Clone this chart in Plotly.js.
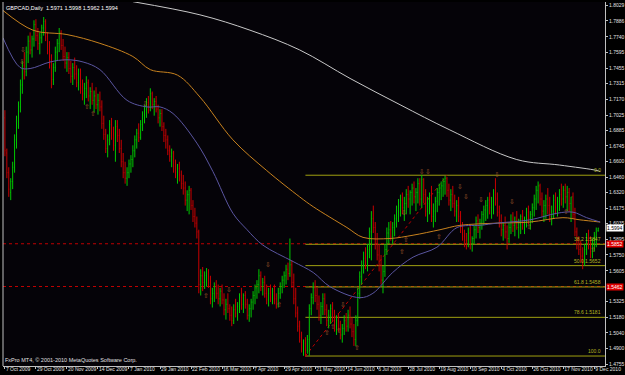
<!DOCTYPE html>
<html><head><meta charset="utf-8">
<script src="https://cdn.plot.ly/plotly-3.0.1.min.js"></script>
<style>html,body{margin:0;padding:0;background:#000;}#chart{width:625px;height:375px;}</style>
</head><body><div id="chart"></div>
<script>
const symbolName = "GBPCAD";
const periodName = "Daily";
const footerText = "FxPro MT4, © 2001-2010 MetaQuotes Software Corp.";

const tickDates = ["7 Oct 2009","29 Oct 2009","20 Nov 2009","14 Dec 2009","7 Jan 2010","29 Jan 2010","22 Feb 2010","16 Mar 2010","7 Apr 2010","29 Apr 2010","21 May 2010","14 Jun 2010","6 Jul 2010","28 Jul 2010","19 Aug 2010","10 Sep 2010","4 Oct 2010","26 Oct 2010","17 Nov 2010","9 Dec 2010"];
const tickDateIdx = [0,16,32,48,64,80,96,112,128,144,160,176,192,208,224,240,256,272,288,304];

const priceTicks = ["1.8029","1.7886","1.7740","1.7595","1.7455","1.7315","1.7170","1.7025","1.6885","1.6745","1.6600","1.6460","1.6320","1.6175","1.6035","1.5895","1.5750","1.5605","1.5325","1.5180","1.5040","1.4900","1.4755"];

const openP = [
1.700,1.668,1.650,1.632,1.642,1.655,1.680,1.698,1.710,1.730,
1.748,1.742,1.760,1.770,1.762,1.772,1.785,1.775,1.768,1.773,
1.782,1.788,1.774,1.762,1.750,1.735,1.746,1.760,1.768,1.778,
1.766,1.756,1.750,1.755,1.745,1.738,1.746,1.740,1.732,1.740,
1.728,1.722,1.727,1.732,1.720,1.724,1.716,1.720,1.712,1.716,
1.710,1.695,1.685,1.672,1.680,1.694,1.686,1.675,1.692,1.684,
1.672,1.660,1.650,1.645,1.650,1.658,1.662,1.670,1.680,1.686,
1.682,1.694,1.702,1.708,1.714,1.710,1.722,1.712,1.715,1.708,
1.700,1.704,1.692,1.684,1.680,1.670,1.665,1.668,1.656,1.650,
1.654,1.648,1.640,1.636,1.625,1.630,1.634,1.620,1.610,1.604,
1.596,1.548,1.556,1.550,1.556,1.558,1.550,1.535,1.540,1.546,
1.540,1.535,1.542,1.534,1.525,1.530,1.526,1.520,1.515,1.525,
1.522,1.528,1.536,1.530,1.538,1.530,1.520,1.526,1.532,1.538,
1.545,1.548,1.556,1.546,1.550,1.540,1.534,1.540,1.536,1.542,
1.535,1.530,1.540,1.546,1.552,1.556,1.562,1.558,1.566,1.550,
1.535,1.522,1.510,1.500,1.490,1.494,1.488,1.498,1.526,1.536,
1.545,1.538,1.530,1.520,1.528,1.535,1.525,1.515,1.520,1.526,
1.518,1.510,1.515,1.508,1.502,1.508,1.515,1.510,1.520,1.512,
1.505,1.498,1.515,1.540,1.555,1.565,1.572,1.566,1.580,1.596,
1.608,1.600,1.585,1.575,1.566,1.552,1.560,1.580,1.595,1.598,
1.592,1.600,1.608,1.615,1.620,1.625,1.618,1.622,1.630,1.626,
1.632,1.636,1.628,1.632,1.640,1.626,1.644,1.630,1.615,1.622,
1.628,1.610,1.615,1.624,1.632,1.636,1.638,1.642,1.645,1.634,
1.625,1.630,1.622,1.615,1.620,1.610,1.600,1.592,1.588,1.585,
1.595,1.585,1.590,1.598,1.606,1.600,1.604,1.612,1.616,1.620,
1.625,1.618,1.624,1.630,1.626,1.614,1.606,1.598,1.602,1.596,
1.590,1.600,1.606,1.602,1.606,1.600,1.604,1.610,1.604,1.608,
1.614,1.608,1.612,1.618,1.626,1.634,1.638,1.626,1.615,1.620,
1.626,1.620,1.610,1.615,1.625,1.618,1.624,1.630,1.626,1.634,
1.628,1.632,1.622,1.628,1.612,1.596,1.585,1.580,1.574,1.568,
1.580,1.590,1.585,1.578,1.585,1.592,1.5971];

const highP = [
1.707,1.672,1.655,1.645,1.660,1.685,1.702,1.715,1.735,1.752,
1.760,1.765,1.775,1.778,1.775,1.789,1.790,1.782,1.778,1.785,
1.792,1.790,1.778,1.770,1.758,1.750,1.765,1.772,1.782,1.780,
1.772,1.765,1.760,1.760,1.752,1.750,1.755,1.748,1.745,1.745,
1.735,1.732,1.738,1.735,1.728,1.732,1.725,1.728,1.722,1.724,
1.716,1.702,1.690,1.685,1.698,1.700,1.692,1.698,1.698,1.690,
1.680,1.668,1.660,1.655,1.662,1.666,1.675,1.684,1.690,1.695,
1.698,1.706,1.712,1.718,1.720,1.727,1.724,1.718,1.720,1.712,
1.708,1.708,1.696,1.690,1.684,1.675,1.672,1.670,1.662,1.658,
1.660,1.652,1.648,1.642,1.634,1.638,1.636,1.625,1.618,1.610,
1.598,1.562,1.564,1.560,1.563,1.562,1.556,1.545,1.550,1.552,
1.548,1.545,1.548,1.540,1.535,1.540,1.530,1.528,1.530,1.535,
1.532,1.540,1.545,1.540,1.542,1.535,1.530,1.535,1.542,1.548,
1.552,1.562,1.560,1.554,1.556,1.548,1.545,1.548,1.545,1.548,
1.540,1.545,1.550,1.556,1.560,1.566,1.568,1.590,1.570,1.558,
1.545,1.528,1.515,1.505,1.498,1.500,1.502,1.530,1.540,1.550,
1.552,1.545,1.538,1.532,1.540,1.540,1.530,1.525,1.530,1.532,
1.525,1.520,1.522,1.515,1.512,1.520,1.522,1.525,1.528,1.518,
1.512,1.520,1.545,1.560,1.570,1.578,1.582,1.585,1.600,1.615,
1.620,1.605,1.595,1.585,1.575,1.565,1.585,1.600,1.605,1.606,
1.605,1.612,1.620,1.626,1.630,1.632,1.628,1.635,1.638,1.634,
1.640,1.642,1.636,1.645,1.645,1.648,1.645,1.635,1.628,1.632,
1.638,1.622,1.628,1.636,1.640,1.642,1.645,1.647,1.646,1.640,
1.635,1.638,1.630,1.625,1.628,1.615,1.605,1.598,1.595,1.600,
1.602,1.592,1.602,1.610,1.612,1.608,1.615,1.620,1.625,1.628,
1.632,1.628,1.635,1.645,1.632,1.620,1.612,1.605,1.610,1.602,
1.604,1.612,1.614,1.610,1.615,1.608,1.612,1.616,1.610,1.618,
1.620,1.615,1.622,1.630,1.638,1.642,1.640,1.632,1.625,1.630,
1.636,1.628,1.620,1.630,1.632,1.628,1.635,1.640,1.638,1.640,
1.638,1.636,1.628,1.632,1.618,1.600,1.592,1.588,1.582,1.585,
1.595,1.598,1.592,1.590,1.596,1.600,1.5998];

const lowP = [
1.665,1.645,1.628,1.625,1.635,1.650,1.672,1.690,1.705,1.722,
1.735,1.738,1.750,1.758,1.755,1.765,1.770,1.762,1.758,1.768,
1.775,1.770,1.758,1.745,1.727,1.730,1.742,1.752,1.760,1.762,
1.752,1.745,1.742,1.740,1.732,1.730,1.735,1.728,1.725,1.722,
1.716,1.712,1.718,1.715,1.708,1.712,1.705,1.708,1.703,1.706,
1.690,1.680,1.668,1.664,1.675,1.680,1.670,1.660,1.678,1.668,
1.655,1.645,1.640,1.638,1.645,1.650,1.655,1.664,1.672,1.678,
1.680,1.688,1.695,1.700,1.704,1.706,1.708,1.702,1.705,1.695,
1.692,1.688,1.678,1.672,1.666,1.660,1.655,1.650,1.645,1.640,
1.642,1.635,1.630,1.620,1.615,1.612,1.616,1.605,1.600,1.590,
1.540,1.538,1.542,1.544,1.546,1.545,1.530,1.527,1.532,1.535,
1.530,1.528,1.530,1.520,1.516,1.522,1.515,1.510,1.512,1.518,
1.515,1.522,1.525,1.522,1.526,1.516,1.514,1.518,1.525,1.530,
1.535,1.540,1.542,1.538,1.536,1.530,1.528,1.532,1.530,1.530,
1.526,1.527,1.535,1.540,1.545,1.548,1.552,1.555,1.545,1.530,
1.518,1.505,1.495,1.486,1.483,1.482,1.485,1.483,1.520,1.530,
1.532,1.525,1.515,1.512,1.520,1.520,1.510,1.508,1.512,1.514,
1.505,1.502,1.505,1.498,1.495,1.502,1.505,1.505,1.508,1.500,
1.492,1.492,1.510,1.535,1.548,1.558,1.562,1.560,1.572,1.570,
1.595,1.580,1.570,1.560,1.548,1.540,1.555,1.575,1.585,1.588,
1.585,1.592,1.600,1.605,1.610,1.612,1.606,1.612,1.618,1.612,
1.620,1.622,1.615,1.622,1.620,1.618,1.622,1.610,1.605,1.612,
1.605,1.600,1.605,1.614,1.620,1.625,1.628,1.630,1.628,1.620,
1.615,1.618,1.610,1.605,1.605,1.595,1.588,1.582,1.580,1.582,
1.580,1.578,1.585,1.590,1.595,1.590,1.598,1.602,1.606,1.608,
1.612,1.608,1.612,1.620,1.610,1.600,1.592,1.588,1.590,1.580,
1.586,1.594,1.596,1.592,1.598,1.590,1.594,1.598,1.594,1.600,
1.603,1.598,1.604,1.610,1.616,1.622,1.620,1.610,1.605,1.608,
1.612,1.605,1.602,1.608,1.612,1.610,1.615,1.620,1.618,1.622,
1.615,1.614,1.605,1.608,1.592,1.580,1.575,1.568,1.562,1.565,
1.575,1.580,1.572,1.572,1.578,1.582,1.5962];

const closeP = [
1.670,1.650,1.635,1.642,1.655,1.680,1.698,1.710,1.730,1.748,
1.742,1.760,1.770,1.762,1.772,1.785,1.775,1.768,1.773,1.782,
1.788,1.774,1.762,1.750,1.735,1.746,1.760,1.768,1.778,1.766,
1.756,1.750,1.755,1.745,1.738,1.746,1.740,1.732,1.740,1.728,
1.722,1.727,1.732,1.720,1.724,1.716,1.720,1.712,1.716,1.710,
1.695,1.685,1.672,1.680,1.694,1.686,1.675,1.692,1.684,1.672,
1.660,1.650,1.645,1.650,1.658,1.662,1.670,1.680,1.686,1.682,
1.694,1.702,1.708,1.714,1.710,1.722,1.712,1.715,1.708,1.700,
1.704,1.692,1.684,1.680,1.670,1.665,1.668,1.656,1.650,1.654,
1.648,1.640,1.636,1.625,1.630,1.634,1.620,1.610,1.604,1.596,
1.548,1.556,1.550,1.556,1.558,1.550,1.535,1.540,1.546,1.540,
1.535,1.542,1.534,1.525,1.530,1.526,1.520,1.515,1.525,1.522,
1.528,1.536,1.530,1.538,1.530,1.520,1.526,1.532,1.538,1.545,
1.548,1.556,1.546,1.550,1.540,1.534,1.540,1.536,1.542,1.535,
1.530,1.540,1.546,1.552,1.556,1.562,1.558,1.566,1.550,1.535,
1.522,1.510,1.500,1.490,1.494,1.488,1.498,1.526,1.536,1.545,
1.538,1.530,1.520,1.528,1.535,1.525,1.515,1.520,1.526,1.518,
1.510,1.515,1.508,1.502,1.508,1.515,1.510,1.520,1.512,1.505,
1.498,1.515,1.540,1.555,1.565,1.572,1.566,1.580,1.596,1.608,
1.600,1.585,1.575,1.566,1.552,1.560,1.580,1.595,1.598,1.592,
1.600,1.608,1.615,1.620,1.625,1.618,1.622,1.630,1.626,1.632,
1.636,1.628,1.632,1.640,1.626,1.644,1.630,1.615,1.622,1.628,
1.610,1.615,1.624,1.632,1.636,1.638,1.642,1.645,1.634,1.625,
1.630,1.622,1.615,1.620,1.610,1.600,1.592,1.588,1.585,1.595,
1.585,1.590,1.598,1.606,1.600,1.604,1.612,1.616,1.620,1.625,
1.618,1.624,1.630,1.626,1.614,1.606,1.598,1.602,1.596,1.590,
1.600,1.606,1.602,1.606,1.600,1.604,1.610,1.604,1.608,1.614,
1.608,1.612,1.618,1.626,1.634,1.638,1.626,1.615,1.620,1.626,
1.620,1.610,1.615,1.625,1.618,1.624,1.630,1.626,1.634,1.628,
1.632,1.622,1.628,1.612,1.596,1.585,1.580,1.574,1.568,1.580,
1.590,1.585,1.578,1.585,1.592,1.596,1.5994];

// moving averages, read at sample bars
const maSlowX = [66,100.6,126.4,152,178,203.8,229.5,264,286,305.4,307];
const maSlowY = [1.806,1.794,1.780,1.762,1.736,1.712,1.689,1.662,1.657,1.652,1.651];
const maMidX = [-1,14.5,32,49,66,75,89,100.6,117.6,135,152,159,176.4,184.7,198.6,210.5,224.4,234.7,254,270.8,287.8,296.6,307];
const maMidY = [1.798,1.780,1.776,1.768,1.756,1.744,1.739,1.719,1.680,1.652,1.628,1.619,1.600,1.591,1.590,1.593,1.598,1.602,1.604,1.605,1.609,1.607,1.605];
const maFastX = [-1,7.8,13,23.3,32,40.3,49,63,73.3,80,86.7,99,107.3,117.6,124.9,133,148.6,159,167.7,183,189.8,200,210.5,222.8,233.2,245,253.8,270.8,284.7,293,300,307];
const maFastY = [1.773,1.746,1.745,1.751,1.753,1.751,1.744,1.716,1.710,1.710,1.704,1.677,1.651,1.613,1.598,1.584,1.569,1.559,1.546,1.536,1.540,1.559,1.573,1.582,1.600,1.602,1.604,1.607,1.613,1.614,1.609,1.605];

// fractal marks
const fracHighX = [9.3,8.8,72.3,115.6,135.7,174.4,205.8,215,218.2,234.7,237.8,245.5,253.8,261.5];
const fracHighY = [1.762,1.751,1.712,1.543,1.566,1.529,1.613,1.650,1.650,1.637,1.628,1.625,1.648,1.623];
const fracLowX = [42.3,45.4,103.7,141.4,166.1,169.2,172.3,181.6,204.8,206.8,223.9,270.3,289.4,303.3];
const fracLowY = [1.710,1.703,1.537,1.529,1.504,1.509,1.505,1.490,1.577,1.588,1.591,1.600,1.614,1.579];

// fibonacci retracement
const fibLowIdx = 155, fibHighIdx = 228;
const fibLow = 1.4828, fibHigh = 1.6477;
const fibLevels = [0, 38.2, 50, 61.8, 78.6, 100];

// horizontal lines
const hLines = [1.5852, 1.5462];

const N = openP.length;
const idx = openP.map((_, i) => i);
const xRange = [-0.98, 309.5];
const yRange = [1.4737, 1.8057];
const FONT = "Liberation Sans, Arial, sans-serif";
const last = N - 1;

const traces = [
  {type:'scatter', mode:'lines', x: maSlowX, y: maSlowY, line:{color:'#c8c8c8', width:1, shape:'spline'}, hoverinfo:'skip'},
  {type:'scatter', mode:'lines', x: maMidX, y: maMidY, line:{color:'#c8821e', width:1, shape:'spline'}, hoverinfo:'skip'},
  {type:'scatter', mode:'lines', x: maFastX, y: maFastY, line:{color:'#5a55a0', width:1, shape:'spline'}, hoverinfo:'skip'},
  {type:'ohlc', x: idx, open: openP, high: highP, low: lowP, close: closeP,
   increasing:{line:{color:'#00c800', width:1}}, decreasing:{line:{color:'#c80000', width:1}},
   tickwidth:0.25, hoverinfo:'skip'},
  {type:'scatter', mode:'text', x: fracHighX, y: fracHighY, text: fracHighX.map(()=>'⇩'),
   textfont:{family:'DejaVu Sans', size:7, color:'#a0562c'}, hoverinfo:'skip'},
  {type:'scatter', mode:'text', x: fracLowX, y: fracLowY, text: fracLowX.map(()=>'⇧'),
   textfont:{family:'DejaVu Sans', size:7, color:'#a0562c'}, hoverinfo:'skip'}
];

const shapes = [];
hLines.forEach(v => shapes.push({type:'line', xref:'paper', x0:0, x1:1, yref:'y', y0:v, y1:v, layer:'below',
  line:{color:'#c00000', width:1, dash:'dot'}}));
const fibRange = fibHigh - fibLow;
fibLevels.forEach(l => {
  const v = fibHigh - fibRange * l / 100;
  shapes.push({type:'line', xref:'x', x0:fibLowIdx, x1:xRange[1], yref:'y', y0:v, y1:v, layer:'below',
    line:{color:'#a0a010', width:1}});
});
shapes.push({type:'line', xref:'x', x0:fibLowIdx, x1:fibHighIdx, yref:'y', y0:fibLow, y1:fibHigh, layer:'below',
  line:{color:'#c00000', width:1, dash:'dot'}});
shapes.push({type:'line', xref:'paper', x0:0, x1:0, yref:'paper', y0:0, y1:1, line:{color:'#c0c0c0', width:1}});

const annotations = [];
annotations.push({xref:'paper', yref:'paper', x:0, y:1, xanchor:'left', yanchor:'top', xshift:1, yshift:-1, showarrow:false,
  text: symbolName + ',' + periodName + '  ' + openP[last].toFixed(4) + ' ' + highP[last].toFixed(4) + ' ' + lowP[last].toFixed(4) + ' ' + closeP[last].toFixed(4),
  font:{family:FONT, size:5.5, color:'#ffffff'}});
annotations.push({xref:'paper', yref:'paper', x:0, y:0, xanchor:'left', yanchor:'bottom', xshift:0, yshift:1, showarrow:false,
  text: footerText, font:{family:FONT, size:5.5, color:'#e0e0e0'}});
fibLevels.forEach(l => {
  const v = fibHigh - fibRange * l / 100;
  const txt = (l === 0 || l === 100) ? l.toFixed(1) : l.toFixed(1) + ' ' + v.toFixed(4);
  annotations.push({xref:'paper', yref:'y', x:1, y:v, xanchor:'right', yanchor:'bottom', xshift:-2, yshift:0, showarrow:false,
    text: txt, font:{family:FONT, size:5, color:'#b4b420'}});
});
hLines.forEach(v => annotations.push({xref:'paper', yref:'y', x:1, y:v, xanchor:'left', yanchor:'middle', xshift:1, showarrow:false,
  text: v.toFixed(4), bgcolor:'#e00000', borderpad:0, font:{family:FONT, size:5, color:'#ffffff'}}));
annotations.push({xref:'paper', yref:'y', x:1, y:closeP[last], xanchor:'left', yanchor:'middle', xshift:1, showarrow:false,
  text: closeP[last].toFixed(4), bgcolor:'#ffffff', borderpad:0, font:{family:FONT, size:5, color:'#000000'}});

const layout = {
  width:625, height:375, margin:{l:3, r:20, t:2, b:9},
  paper_bgcolor:'#000000', plot_bgcolor:'#050308', showlegend:false,
  xaxis:{range:xRange, showgrid:false, zeroline:false, showline:true, linecolor:'#c0c0c0', linewidth:1,
    ticks:'outside', ticklen:2, tickcolor:'#c0c0c0', tickvals:tickDateIdx, ticktext:tickDates,
    tickangle:0, ticklabelposition:'outside right', ticklabelstandoff:-2,
    tickfont:{family:FONT, size:5, color:'#e0e0e0'},
    rangeslider:{visible:false}, fixedrange:true},
  yaxis:{range:yRange, side:'right', showgrid:false, zeroline:false, showline:true, linecolor:'#c0c0c0', linewidth:1,
    ticks:'outside', ticklen:2, tickcolor:'#c0c0c0', tickvals:priceTicks.map(Number), ticktext:priceTicks,
    tickfont:{family:FONT, size:5, color:'#e0e0e0'}, fixedrange:true},
  shapes, annotations
};
Plotly.newPlot('chart', traces, layout, {staticPlot:true, displayModeBar:false});
</script></body></html>
